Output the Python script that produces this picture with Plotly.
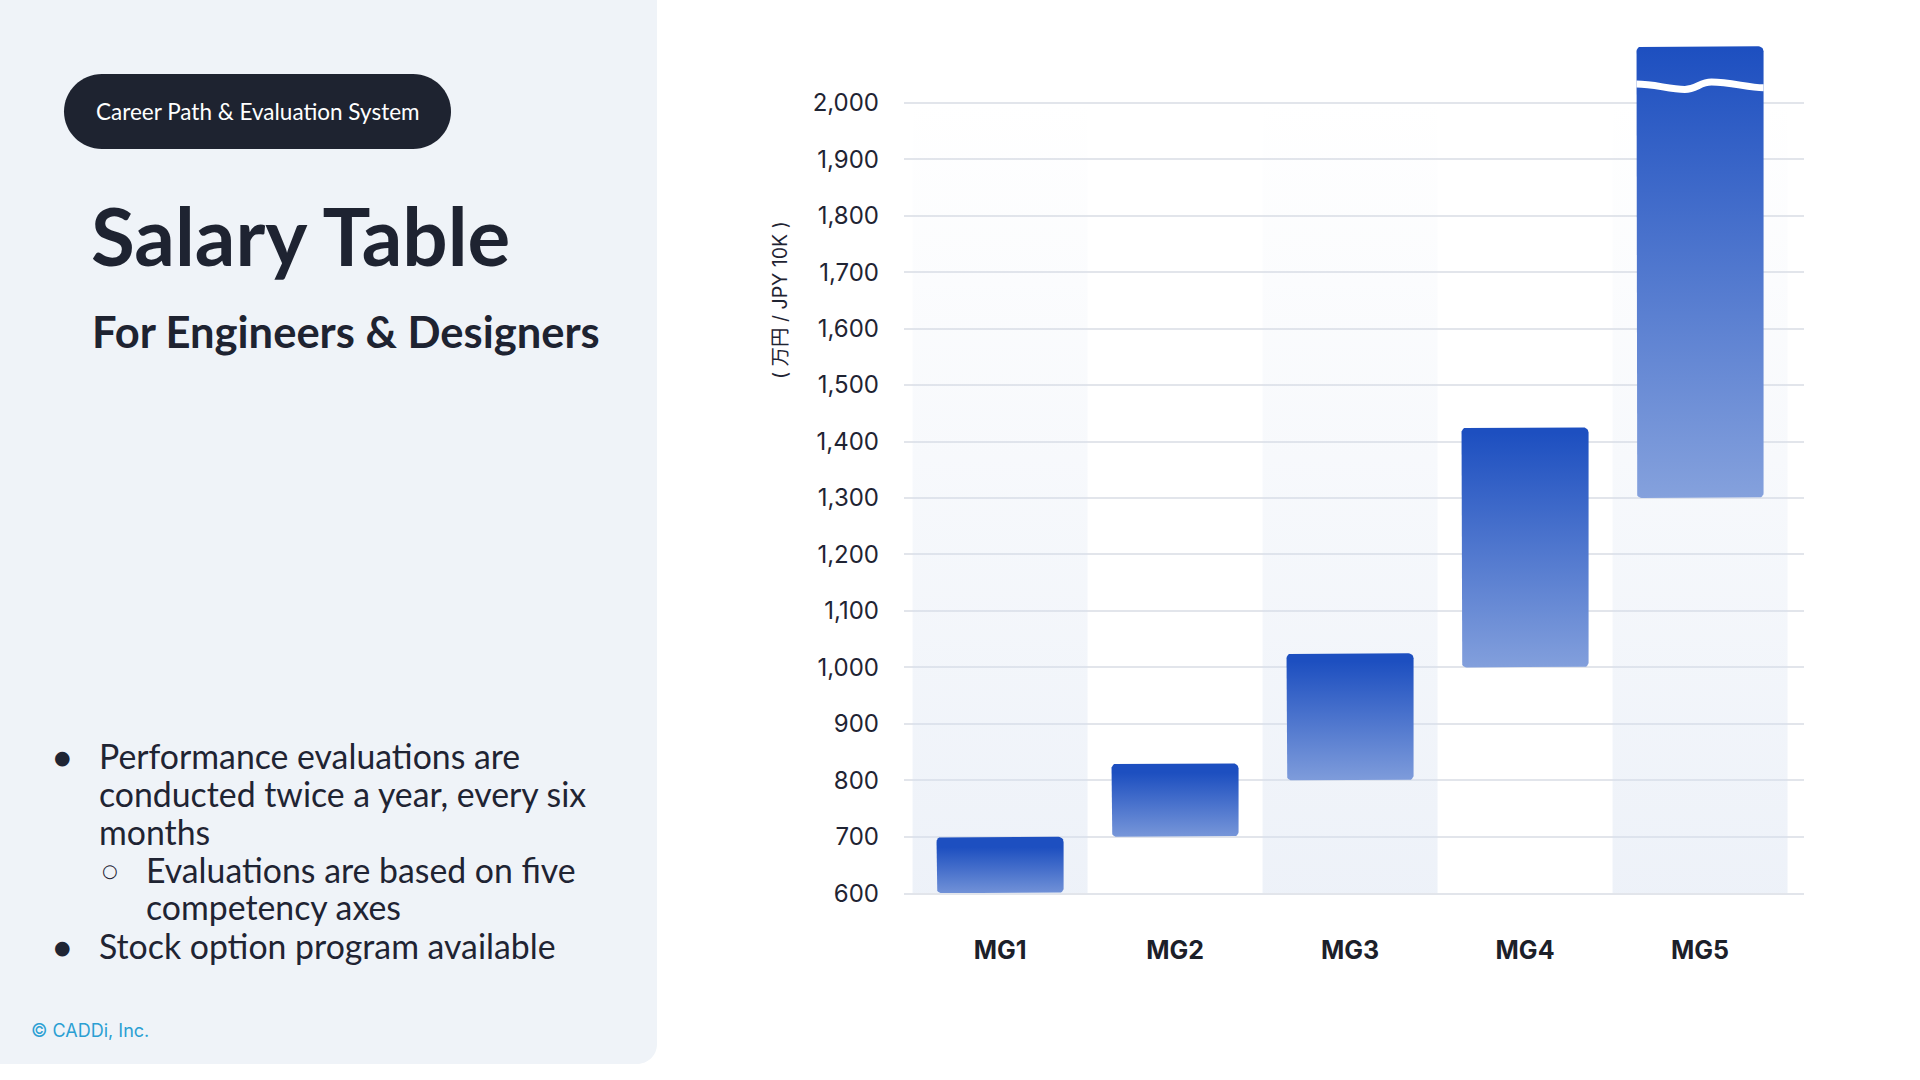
import math
import plotly.graph_objects as go

# ---------------- data ----------------
categories = ["MG1", "MG2", "MG3", "MG4", "MG5"]
salary_min = [600, 700, 800, 1000, 1300]
salary_max = [700, 830, 1025, 1425, 2100]   # MG5 is truncated by an axis break
break_value = 2030                            # position of the break mark on MG5
band_categories = ["MG1", "MG3", "MG5"]
y_ticks = [600, 700, 800, 900, 1000, 1100, 1200, 1300, 1400,
           1500, 1600, 1700, 1800, 1900, 2000]
y_title = "( 万円 / JPY 10K )"

pill_text = "Career Path & Evaluation System"
title_text = "Salary Table"
subtitle_text = "For Engineers & Designers"
bullet_lines = [
    ("●", "Performance evaluations are", 0),
    (None, "conducted twice a year, every six", 0),
    (None, "months", 0),
    ("○", "Evaluations are based on five", 1),
    (None, "competency axes", 1),
    ("●", "Stock option program available", 0),
]
copyright_text = "© CADDi, Inc."

# ---------------- styling ----------------
W, H = 1920, 1080
BAR_W = 0.726
BAR_TOP = "#1d4fc0"
BAR_BOTTOM = "#86a2dd"
DARK = "#1f2433"
GRID = "#e2e5eb"


def px(x):
    return x / W


def py(y):
    return 1 - y / H


def rrect_path(x0, y0, x1, y1, rtl, rtr, rbr, rbl):
    """Rounded rectangle path in pixel space (y down), returned in paper coords."""
    k = 0.5523
    def P(x, y):
        return f"{px(x):.6f},{py(y):.6f}"
    s = f"M {P(x0 + rtl, y0)} L {P(x1 - rtr, y0)} "
    if rtr:
        s += f"C {P(x1 - rtr + k * rtr, y0)} {P(x1, y0 + rtr - k * rtr)} {P(x1, y0 + rtr)} "
    s += f"L {P(x1, y1 - rbr)} "
    if rbr:
        s += f"C {P(x1, y1 - rbr + k * rbr)} {P(x1 - rbr + k * rbr, y1)} {P(x1 - rbr, y1)} "
    s += f"L {P(x0 + rbl, y1)} "
    if rbl:
        s += f"C {P(x0 + rbl - k * rbl, y1)} {P(x0, y1 - rbl + k * rbl)} {P(x0, y1 - rbl)} "
    s += f"L {P(x0, y0 + rtl)} "
    if rtl:
        s += f"C {P(x0, y0 + rtl - k * rtl)} {P(x0 + rtl - k * rtl, y0)} {P(x0 + rtl, y0)} "
    return s + "Z"


def rounded_rect(x0, x1, y0, y1, rx, ry, n=6):
    xs, ys = [], []
    corners = [(x1 - rx, y1 - ry, 0, 90), (x0 + rx, y1 - ry, 90, 180),
               (x0 + rx, y0 + ry, 180, 270), (x1 - rx, y0 + ry, 270, 360)]
    for cx, cy, a0, a1 in corners:
        for k in range(n + 1):
            a = math.radians(a0 + (a1 - a0) * k / n)
            xs.append(cx + rx * math.cos(a))
            ys.append(cy + ry * math.sin(a))
    xs.append(xs[0])
    ys.append(ys[0])
    return xs, ys


fig = go.Figure()

# background column bands
for cat in band_categories:
    i = categories.index(cat)
    fig.add_trace(go.Scatter(
        x=[i - 0.5, i - 0.5, i + 0.5, i + 0.5, i - 0.5],
        y=[y_ticks[0], y_ticks[-1], y_ticks[-1], y_ticks[0], y_ticks[0]],
        mode="none", fill="toself",
        fillgradient=dict(type="vertical",
                          colorscale=[[0, "rgba(214,224,240,0.44)"],
                                      [1, "rgba(214,224,240,0.0)"]],
                          start=y_ticks[0], stop=y_ticks[-1]),
        hoverinfo="skip", showlegend=False))

# salary range bars (floating, gradient filled, rounded corners)
RX, RY = 0.03, 9
for i, (cat, lo, hi) in enumerate(zip(categories, salary_min, salary_max)):
    xs, ys = rounded_rect(i - BAR_W / 2, i + BAR_W / 2, lo, hi, RX, RY)
    fig.add_trace(go.Scatter(
        x=xs, y=ys, mode="lines", line=dict(width=0, color=BAR_TOP),
        fill="toself",
        fillgradient=dict(type="vertical",
                          colorscale=[[0, BAR_BOTTOM], [1, BAR_TOP]],
                          start=lo, stop=hi),
        name=cat, hoverinfo="skip", showlegend=False))

# wavy break mark on the last bar
ib = len(categories) - 1
xa, xb = ib - BAR_W / 2, ib + BAR_W / 2
D = xb - xa
b = break_value
A = 6.5
wave = (f"M {xa},{b + 3} "
        f"C {xa + 0.14 * D},{b + 3} {xa + 0.26 * D},{b - A} {xa + 0.38 * D},{b - A} "
        f"C {xa + 0.47 * D},{b - A} {xa + 0.5 * D},{b + A} {xa + 0.59 * D},{b + A} "
        f"C {xa + 0.74 * D},{b + A} {xb - 0.12 * D},{b - 3.5} {xb},{b - 3.5}")

shapes = [
    # left panel
    dict(type="path", xref="paper", yref="paper", layer="below",
         path=rrect_path(-20, -20, 657, 1078, 0, 20, 20, 0),
         fillcolor="#eff3f8", line=dict(width=0)),
    # pill
    dict(type="path", xref="paper", yref="paper", layer="above",
         path=rrect_path(64, 75, 451, 151, 38, 38, 38, 38),
         fillcolor="#1e2330", line=dict(width=0)),
    # break mark
    dict(type="path", xref="x", yref="y", layer="above", path=wave,
         line=dict(color="white", width=7)),
]

annotations = [
    dict(text=pill_text, x=px(257.5), y=py(113), xanchor="center", yanchor="middle",
         font=dict(family="Lato", size=22.5, color="white")),
    dict(text=title_text, x=px(89), y=py(238), xanchor="left", yanchor="middle",
         font=dict(family="Lato", size=80, color="#1e2331", weight=700)),
    dict(text=subtitle_text, x=px(90), y=py(335), xanchor="left", yanchor="middle",
         font=dict(family="Lato", size=43.5, color="#1e2331", weight=700)),
    dict(text=copyright_text, x=px(29), y=py(1044), xanchor="left", yanchor="middle",
         font=dict(family="Inter", size=18, color="#2b9fd3")),
    dict(text=y_title, x=px(780), y=py(304), xanchor="center", yanchor="middle",
         textangle=-90,
         font=dict(family="Inter, 'Noto Sans CJK JP'", size=19.5, color=DARK)),
]

line_y = [766, 804, 843, 881, 919, 958]
for (marker, text, level), yy in zip(bullet_lines, line_y):
    tx = 97 if level == 0 else 144
    annotations.append(dict(text=text, x=px(tx), y=py(yy), xanchor="left", yanchor="middle",
                            font=dict(family="Lato", size=33.8, color=DARK)))
    if marker:
        mx = 62 if level == 0 else 110
        annotations.append(dict(text=marker, x=px(mx), y=py(yy + 1), xanchor="center",
                                yanchor="middle",
                                font=dict(family="DejaVu Sans",
                                          size=19 if marker == "●" else 18, color=DARK)))

for a in annotations:
    a.update(xref="paper", yref="paper", showarrow=False)

fig.update_layout(
    width=W, height=H,
    margin=dict(l=0, r=0, t=0, b=0),
    paper_bgcolor="white", plot_bgcolor="rgba(0,0,0,0)",
    showlegend=False, hovermode=False,
    shapes=shapes, annotations=annotations,
    xaxis=dict(domain=[904 / W, 1804 / W], range=[-0.549, 4.594],
               tickvals=list(range(len(categories))), ticktext=categories,
               showgrid=False, zeroline=False, showline=True,
               linecolor=GRID, linewidth=2, ticks="", ticklabelstandoff=34,
               tickfont=dict(family="Inter", size=25, color="#1c2029", weight=700),
               fixedrange=True),
    yaxis=dict(domain=[1 - 905 / H, 1 - 41.1 / H], range=[600, 2110],
               tickvals=y_ticks, tickformat=",",
               showgrid=True, gridcolor=GRID, gridwidth=2,
               zeroline=False, showline=False, ticks="", ticklabelstandoff=24,
               tickfont=dict(family="Inter", size=24, color=DARK),
               fixedrange=True),
)

fig.write_html(
    "out.html",
    config={"displayModeBar": False},
    post_script="document.body.style.margin='0';document.body.style.overflow='hidden';",
)
